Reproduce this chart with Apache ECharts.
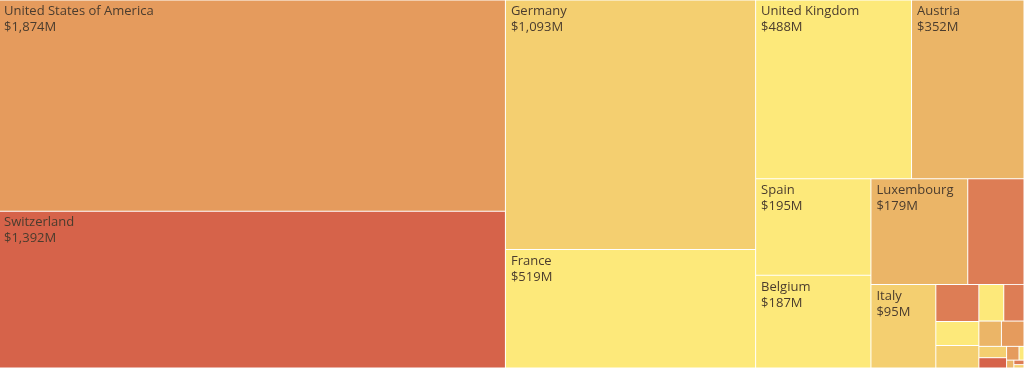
<!DOCTYPE html>
<html>
<head>
<meta charset="utf-8">
<script src="https://cdn.jsdelivr.net/npm/echarts@6/dist/echarts.min.js"></script>
<style>
html,body{margin:0;padding:0;background:#fff;overflow:hidden;}
#chart{width:1024px;height:368px;}
</style>
</head>
<body>
<div id="chart"></div>
<script>
const countries = ['United States of America','Switzerland','Germany','France','United Kingdom','Austria','Spain','Belgium','Luxembourg','Netherlands','Italy','Sweden','Ireland','Denmark','Norway','Finland','Portugal','Poland','Liechtenstein','Czechia','Hungary','Greece','Cyprus','Malta','Monaco'];
const values = [1874,1392,1093,519,488,352,195,187,179,104,95,28,18,17,16,13,10,10,5.5,5,3,1,1.2,0.8,0.6];
const colors = ['#e59b5d','#d6634a','#f4cf70','#fde97a','#fde97a','#ebb567','#fde97a','#fde97a','#ebb567','#dd7d55','#f4cf70','#dd7d55','#fde97a','#f4cf70','#fde97a','#dd7d55','#e59b5d','#ebb567','#f4cf70','#d6634a','#e59b5d','#ebb567','#fde97a','#dd7d55','#f4cf70'];
const labelled = ['United States of America','Switzerland','Germany','France','United Kingdom','Austria','Spain','Belgium','Luxembourg','Italy'];

const data = countries.map((n, i) => ({
  name: n,
  value: values[i],
  itemStyle: { color: colors[i] },
  label: { show: labelled.indexOf(n) >= 0 }
}));

const chart = echarts.init(document.getElementById('chart'));
chart.setOption({
  animation: false,
  series: [{
    type: 'treemap',
    left: -2, top: -0.5,
    width: 1026.5, height: 369,
    roam: false,
    nodeClick: false,
    breadcrumb: { show: false },
    sort: 'desc',
    itemStyle: { borderColor: '#fff', borderWidth: 0.5, gapWidth: 0 },
    label: {
      position: 'insideTopLeft',
      padding: [3, 5],
      fontFamily: 'Open Sans',
      fontSize: 13,
      lineHeight: 16,
      color: '#4a3c2e',
      formatter: p => p.name + '\n$' + p.value.toLocaleString('en-US') + 'M'
    },
    data: data
  }]
});
</script>
</body>
</html>
